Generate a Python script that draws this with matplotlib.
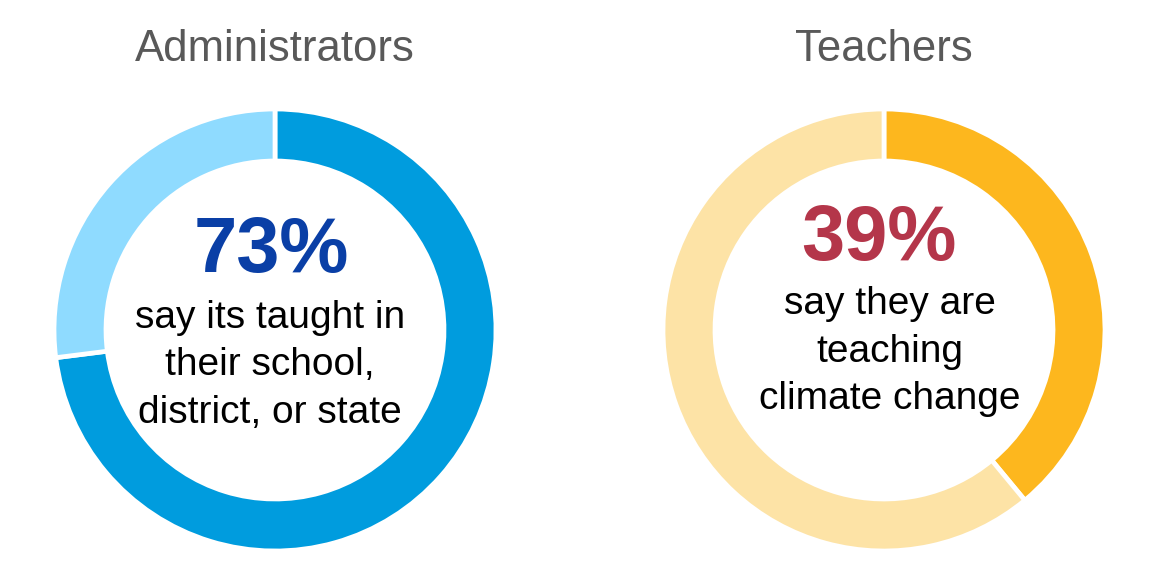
import matplotlib
matplotlib.use("Agg")
import matplotlib.pyplot as plt

plt.rcParams['font.family'] = ['Liberation Sans', 'DejaVu Sans']

titles = ["Administrators", "Teachers"]
values = [73, 39]
pct_labels = ["73%", "39%"]
captions = [["say its taught in", "their school,", "district, or state"],
            ["say they are", "teaching", "climate change"]]
main_colors = ["#009CDE", "#FDB71E"]
rest_colors = ["#8FDBFF", "#FDE3A6"]
pct_colors = ["#0A3FA6", "#B4364A"]

W, H = 1153, 583
fig = plt.figure(figsize=(W / 100, H / 100), dpi=100)
ax = fig.add_axes([0, 0, 1, 1])

centers_x = [275, 884]
cy = H - 330
R = 221
width = 52

title_base = H - 61
pct_pos = [(271, H - 272), (879, H - 260)]
cap_x = [270, 890]
cap_first_base = [328, 314]
line_step = 47.5

for i in range(2):
    ax.pie([values[i], 100 - values[i]], colors=[main_colors[i], rest_colors[i]],
           startangle=90, counterclock=False, center=(centers_x[i], cy), radius=R,
           wedgeprops=dict(width=width, edgecolor='white', linewidth=3.4),
           frame=True)
    ax.text(centers_x[i], title_base, titles[i], ha='center', va='baseline',
            fontsize=31.5, color='#595959')
    ax.text(pct_pos[i][0], pct_pos[i][1], pct_labels[i], ha='center', va='baseline',
            fontsize=56, fontweight='bold', color=pct_colors[i])
    for j, line in enumerate(captions[i]):
        ax.text(cap_x[i], H - (cap_first_base[i] + j * line_step), line,
                ha='center', va='baseline', fontsize=28, color='black')

ax.set_xlim(0, W)
ax.set_ylim(0, H)
ax.set_aspect('auto')
ax.axis('off')

fig.savefig("out.png", dpi=100)
